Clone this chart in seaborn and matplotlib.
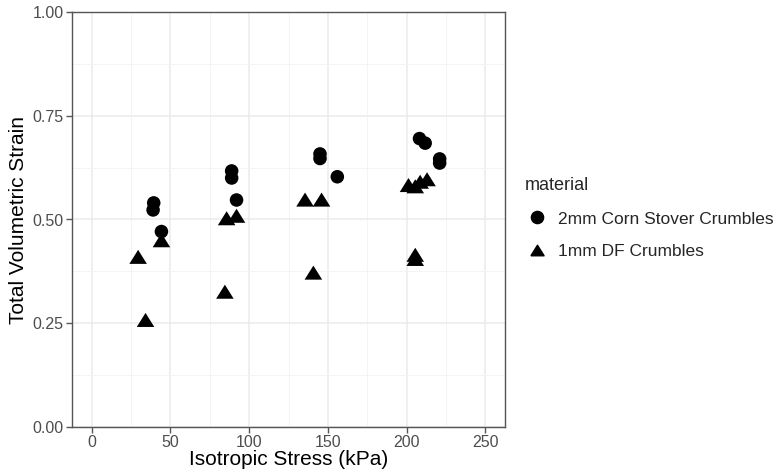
import matplotlib
matplotlib.use("Agg")
import matplotlib.pyplot as plt
import seaborn as sns
import pandas as pd
import numpy as np
from matplotlib.ticker import MultipleLocator

# data
corn_x = [39.4, 39.0, 44.3, 88.9, 88.9, 92.0, 145.0, 145.0, 156.0, 208.2, 211.8, 221.0, 221.0]
corn_y = [0.540, 0.523, 0.471, 0.617, 0.600, 0.547, 0.658, 0.647, 0.603, 0.695, 0.684, 0.646, 0.636]
df_x = [29.5, 34.2, 44.3, 84.6, 85.7, 92.0, 135.5, 146.0, 140.8, 201.2, 205.5, 208.6, 213.0, 205.5, 205.5]
df_y = [0.410, 0.258, 0.450, 0.326, 0.503, 0.509, 0.548, 0.548, 0.372, 0.583, 0.580, 0.591, 0.597, 0.415, 0.405]
materials = ["2mm Corn Stover Crumbles", "1mm DF Crumbles"]

data = pd.DataFrame({
    "stress": corn_x + df_x,
    "strain": corn_y + df_y,
    "material": [materials[0]] * len(corn_x) + [materials[1]] * len(df_x),
})

sns.set_theme(style="white")
plt.rcParams["font.family"] = ["Liberation Sans", "DejaVu Sans"]

fig = plt.figure(figsize=(7.84, 4.73), dpi=100)
ax = fig.add_axes([72 / 784, 1 - 427 / 473, (505 - 72) / 784, (427 - 12) / 473])

tri = [(-1.0, -0.8), (1.0, -0.8), (0.0, 0.8), (-1.0, -0.8)]
markers = {materials[0]: "o", materials[1]: tri}
sizes = {materials[0]: 95, materials[1]: 160}

sns.scatterplot(data=data, x="stress", y="strain", hue="material",
                style="material", size="material",
                palette={materials[0]: "black", materials[1]: "black"},
                markers=markers, sizes=sizes, linewidth=0, ax=ax, zorder=3)

ax.set_xlim(-12.5, 262.5)
ax.set_ylim(0, 1)
ax.xaxis.set_major_locator(MultipleLocator(50))
ax.xaxis.set_minor_locator(MultipleLocator(25))
ax.yaxis.set_major_locator(MultipleLocator(0.25))
ax.yaxis.set_minor_locator(MultipleLocator(0.125))
ax.set_yticks([0, 0.25, 0.5, 0.75, 1.0])
ax.set_yticklabels(["0.00", "0.25", "0.50", "0.75", "1.00"])

ax.grid(True, which="major", color="#EBEBEB", linewidth=1.1, zorder=0)
ax.grid(True, which="minor", color="#F3F3F3", linewidth=0.6, zorder=0)
ax.set_axisbelow(True)
for s in ax.spines.values():
    s.set_color("#555555")
    s.set_linewidth(1.0)
ax.tick_params(axis="both", which="major", direction="out", length=4, width=1,
               color="#555555", labelcolor="#4D4D4D", labelsize=11.5, pad=2,
               bottom=True, left=True)
ax.tick_params(axis="both", which="minor", length=0)

ax.set_xlabel("Isotropic Stress (kPa)", fontsize=15, color="black", labelpad=0)
ax.set_ylabel("Total Volumetric Strain", fontsize=15, color="black", labelpad=3)

leg = ax.get_legend()
if leg is not None:
    leg.remove()
handles = [
    plt.Line2D([], [], marker="o", color="black", linestyle="", markersize=np.sqrt(95) * 0.9),
    plt.Line2D([], [], marker=tri, color="black", linestyle="", markersize=np.sqrt(160) * 0.75),
]
fig.legend(handles, materials, title="material", loc="upper left",
           bbox_to_anchor=(525 / 784, 1 - 177 / 473), frameon=False,
           fontsize=12.5, title_fontsize=13, alignment="left",
           handlelength=1.4, handletextpad=0.5, labelspacing=1.0,
           borderaxespad=0, borderpad=0)

fig.savefig("out.png", dpi=100)
